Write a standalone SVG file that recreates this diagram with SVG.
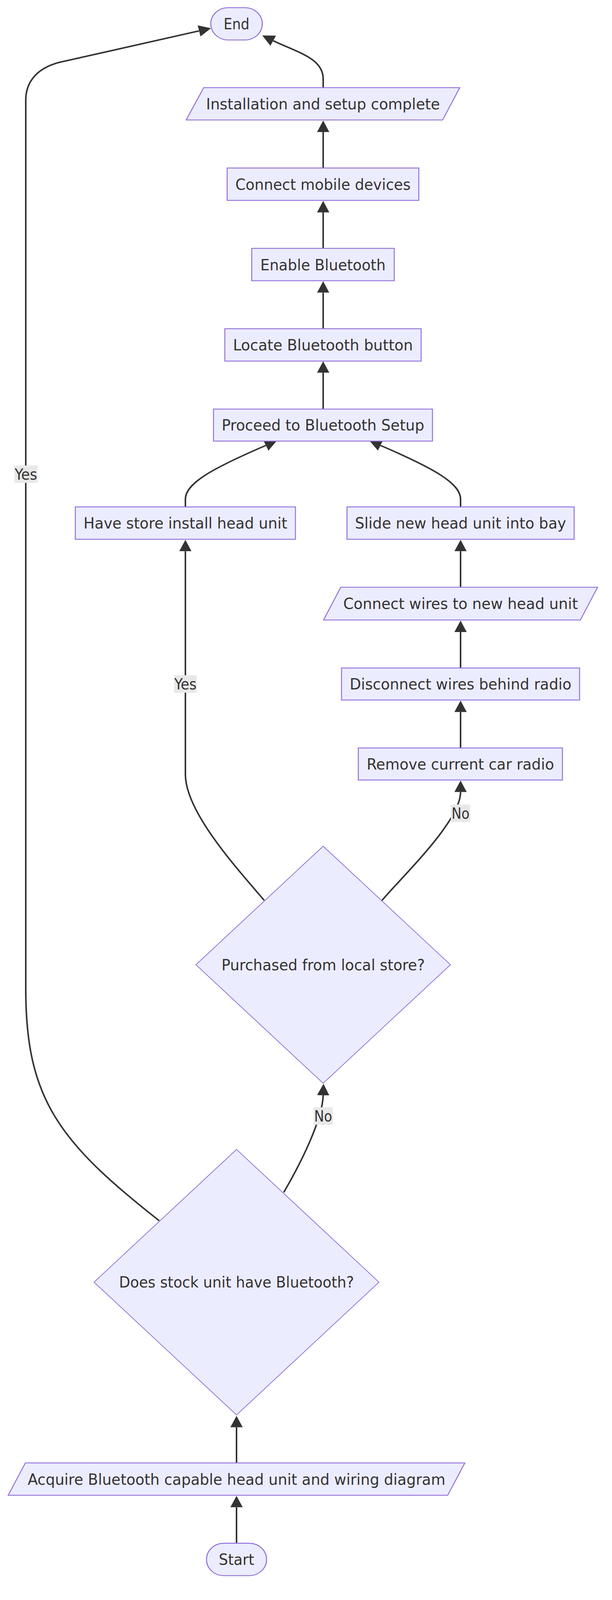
<svg xmlns="http://www.w3.org/2000/svg" width="1568" height="4400" viewBox="0 0 1568 4400">
<style>
.n rect, .n polygon { fill: #ECECFF; stroke: #9370DB; stroke-width: 2.5; }
.n polygon.d { stroke-width: 2; }
text { fill: #333333; font-family: "DejaVu Sans Condensed", "DejaVu Sans", sans-serif; font-size: 42px; text-anchor: middle; }
.e { fill: none; stroke: #333333; stroke-width: 4; }
.lb rect { fill: #e8e8e8; }
</style>
<defs>
<marker id="ah" viewBox="0 0 10 10" refX="0" refY="5" markerWidth="31.5" markerHeight="31.5" markerUnits="userSpaceOnUse" orient="auto">
<path d="M0,0 L10,5 L0,10 z" fill="#333333"/>
</marker>
</defs>
<rect width="1568" height="4400" fill="#ffffff"/>
<g id="diagram" transform="scale(1,0.930909)">
<g id="connectors">
<path class="e" marker-end="url(#ah)" d="M606,4244 L606,4145"/>
<path class="e" marker-end="url(#ah)" d="M606,4023 L606,3925"/>
<path class="e" marker-end="url(#ah)" d="M727,3279 C770,3200 826,3080 828,3012"/>
<path class="e" marker-end="url(#ah)" d="M677,2476 C600,2380 475,2230 475,2130 L475,1516"/>
<path class="e" marker-end="url(#ah)" d="M978,2477 C1035,2405 1180,2258 1180,2178"/>
<path class="e" marker-end="url(#ah)" d="M1180,2057 L1180,1958"/>
<path class="e" marker-end="url(#ah)" d="M1180,1837 L1180,1738"/>
<path class="e" marker-end="url(#ah)" d="M1180,1615 L1180,1516"/>
<path class="e" marker-end="url(#ah)" d="M1180,1394 L1180,1373 C1180,1330 1116,1290 975,1225"/>
<path class="e" marker-end="url(#ah)" d="M475,1394 L475,1373 C475,1330 540,1290 681,1225"/>
<path class="e" marker-end="url(#ah)" d="M828,1125 L828,1025"/>
<path class="e" marker-end="url(#ah)" d="M828,904 L828,805"/>
<path class="e" marker-end="url(#ah)" d="M828,683 L828,584"/>
<path class="e" marker-end="url(#ah)" d="M828,462 L828,363"/>
<path class="e" marker-end="url(#ah)" d="M828,241 L828,217 C828,160 762,144 700,112"/>
<path class="e" marker-end="url(#ah)" d="M408,3357 C150,3140 66,3020 66,2720 L66,275 C66,232 88,190 150,172 L510,85"/>
</g>
<g id="edge-labels">
<g class="lb"><rect x="37" y="1280" width="59" height="48"/><text x="66.5" y="1319.5" textLength="58" lengthAdjust="spacingAndGlyphs">Yes</text></g>
<g class="lb"><rect x="446" y="1857" width="58" height="48"/><text x="475" y="1896.5" textLength="57" lengthAdjust="spacingAndGlyphs">Yes</text></g>
<g class="lb"><rect x="1155" y="2212.5" width="50" height="48"/><text x="1180" y="2252" textLength="46" lengthAdjust="spacingAndGlyphs">No</text></g>
<g class="lb"><rect x="803.5" y="3045" width="49" height="48"/><text x="828" y="3084.5" textLength="46" lengthAdjust="spacingAndGlyphs">No</text></g>
</g>
<g id="node-end" class="n"><rect x="540" y="21" width="132" height="89" rx="44.5" ry="44.5"/><text x="606" y="81" textLength="66" lengthAdjust="spacingAndGlyphs">End</text></g>
<g id="node-installation" class="n"><polygon points="522,241 1178,241 1134,330 477,330"/><text x="827.5" y="301" textLength="599" lengthAdjust="spacingAndGlyphs">Installation and setup complete</text></g>
<g id="node-connect-mobile" class="n"><rect x="582" y="462" width="491" height="89"/><text x="827.5" y="522" textLength="449" lengthAdjust="spacingAndGlyphs">Connect mobile devices</text></g>
<g id="node-enable" class="n"><rect x="645" y="683" width="365" height="89"/><text x="827.5" y="743" textLength="321" lengthAdjust="spacingAndGlyphs">Enable Bluetooth</text></g>
<g id="node-locate" class="n"><rect x="576" y="904" width="503" height="89"/><text x="827.5" y="964" textLength="461" lengthAdjust="spacingAndGlyphs">Locate Bluetooth button</text></g>
<g id="node-proceed" class="n"><rect x="547" y="1125" width="561" height="88"/><text x="827.5" y="1184" textLength="519" lengthAdjust="spacingAndGlyphs">Proceed to Bluetooth Setup</text></g>
<g id="node-have-store" class="n"><rect x="193" y="1394" width="564" height="89"/><text x="475" y="1453.5" textLength="522" lengthAdjust="spacingAndGlyphs">Have store install head unit</text></g>
<g id="node-slide" class="n"><rect x="889" y="1394" width="582" height="89"/><text x="1180" y="1453.5" textLength="541" lengthAdjust="spacingAndGlyphs">Slide new head unit into bay</text></g>
<g id="node-connect-wires" class="n"><polygon points="873,1615 1531,1615 1487,1705 829,1705"/><text x="1180" y="1675" textLength="601" lengthAdjust="spacingAndGlyphs">Connect wires to new head unit</text></g>
<g id="node-disconnect" class="n"><rect x="875" y="1837" width="610" height="88"/><text x="1180" y="1896" textLength="568" lengthAdjust="spacingAndGlyphs">Disconnect wires behind radio</text></g>
<g id="node-remove" class="n"><rect x="918" y="2057" width="523" height="88"/><text x="1179.5" y="2116" textLength="480" lengthAdjust="spacingAndGlyphs">Remove current car radio</text></g>
<g id="node-purchased" class="n"><polygon class="d" points="828,2327 1154,2653 828,2979 502,2653"/><text x="828" y="2668" textLength="521" lengthAdjust="spacingAndGlyphs">Purchased from local store?</text></g>
<g id="node-stock" class="n"><polygon class="d" points="606,3161 971,3526 606,3891 241,3526"/><text x="606" y="3541" textLength="602" lengthAdjust="spacingAndGlyphs">Does stock unit have Bluetooth?</text></g>
<g id="node-acquire" class="n"><polygon points="65,4023 1191,4023 1147,4112 21,4112"/><text x="606" y="4083" textLength="1070" lengthAdjust="spacingAndGlyphs">Acquire Bluetooth capable head unit and wiring diagram</text></g>
<g id="node-start" class="n"><rect x="529" y="4244" width="154" height="89" rx="44.5" ry="44.5"/><text x="606" y="4303.5" textLength="91" lengthAdjust="spacingAndGlyphs">Start</text></g>
</g>
</svg>
